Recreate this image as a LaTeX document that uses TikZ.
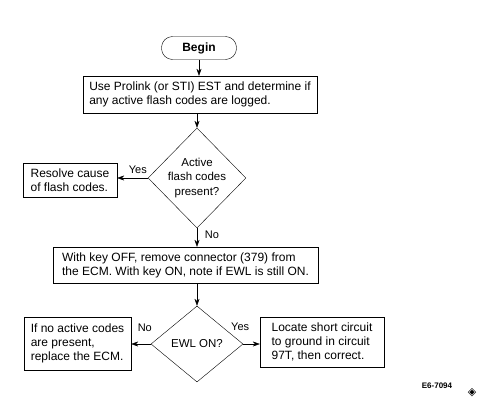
\documentclass[tikz,border=0pt]{standalone}
\usepackage{fontspec}
\setmainfont{Liberation Sans}
\newfontfamily\symfont{DejaVu Sans}
\usetikzlibrary{shapes.geometric,arrows.meta}

\tikzset{
  flowbox/.style={draw, thin, align=left, inner xsep=3pt, font=\fontsize{12}{14}\selectfont},
  decision/.style={draw, thin, diamond, align=center, inner sep=0pt, font=\fontsize{11.5}{14.5}\selectfont},
  flowarrow/.style={thin, -{Stealth[length=7pt,width=5pt]}},
  answer/.style={font=\fontsize{11}{12}\selectfont, inner sep=1pt}
}

\begin{document}
\begin{tikzpicture}[x=1pt,y=-1pt]
  \useasboundingbox (0,0) rectangle (498,415);

  % terminal and first check
  \node[draw, thin, rounded corners=11pt, minimum width=75pt, minimum height=23pt, font=\bfseries\fontsize{12}{14}\selectfont] (begin) at (199,48) {Begin};
  \node[flowbox, minimum width=234pt, minimum height=37pt] (logged) at (200,94.5)
    {Use Prolink (or STI) EST and determine if\\any active flash codes are logged.};
  \node[decision, minimum width=97pt, minimum height=100pt] (active) at (197,178)
    {Active\\flash codes\\present?};
  \node[flowbox, minimum width=94pt, minimum height=34pt] (resolve) at (70,180)
    {Resolve cause\\of flash codes.};

  % connector test
  \node[flowbox, minimum width=265pt, minimum height=36pt] (keyoff) at (185.5,265)
    {With key OFF, remove connector (379) from\\the ECM. With key ON, note if EWL is still ON.};
  \node[decision, minimum width=92pt, minimum height=76pt] (ewl) at (197,344) {EWL ON?};
  \node[flowbox, minimum width=107pt, minimum height=53pt] (replace) at (77.5,343.5)
    {If no active codes\\are present,\\replace the ECM.};
  \node[flowbox, minimum width=124pt, minimum height=50pt] (locate) at (322,342)
    {Locate short circuit\\to ground in circuit\\97T, then correct.};

  \draw[flowarrow] (begin.south) -- (begin.south |- logged.north);
  \draw[flowarrow] (active.north |- logged.south) -- (active.north);
  \draw[flowarrow] (active.west) -- (resolve.east |- active.west);
  \draw[flowarrow] (active.south) -- (active.south |- keyoff.north);
  \draw[flowarrow] (ewl.north |- keyoff.south) -- (ewl.north);
  \draw[flowarrow] (ewl.west) -- (replace.east |- ewl.west);
  \draw[flowarrow] (ewl.east) -- (locate.west |- ewl.east);

  % answers
  \node[answer] (yes1) at ([shift={(-10,-8)}]active.west) {Yes};
  \node[answer] (no1) at ([shift={(15,7)}]active.south) {No};
  \node[answer] (no2) at ([shift={(-6,-16)}]ewl.west) {No};
  \node[answer] (yes2) at ([shift={(-3,-17)}]ewl.east) {Yes};

  \node[font=\bfseries\fontsize{8}{9}\selectfont] (fig) at (437,386) {E6-7094};
  \node[font=\symfont\fontsize{11}{11}\selectfont, inner sep=0pt] (mark) at (472,393) {◈};
\end{tikzpicture}
\end{document}
